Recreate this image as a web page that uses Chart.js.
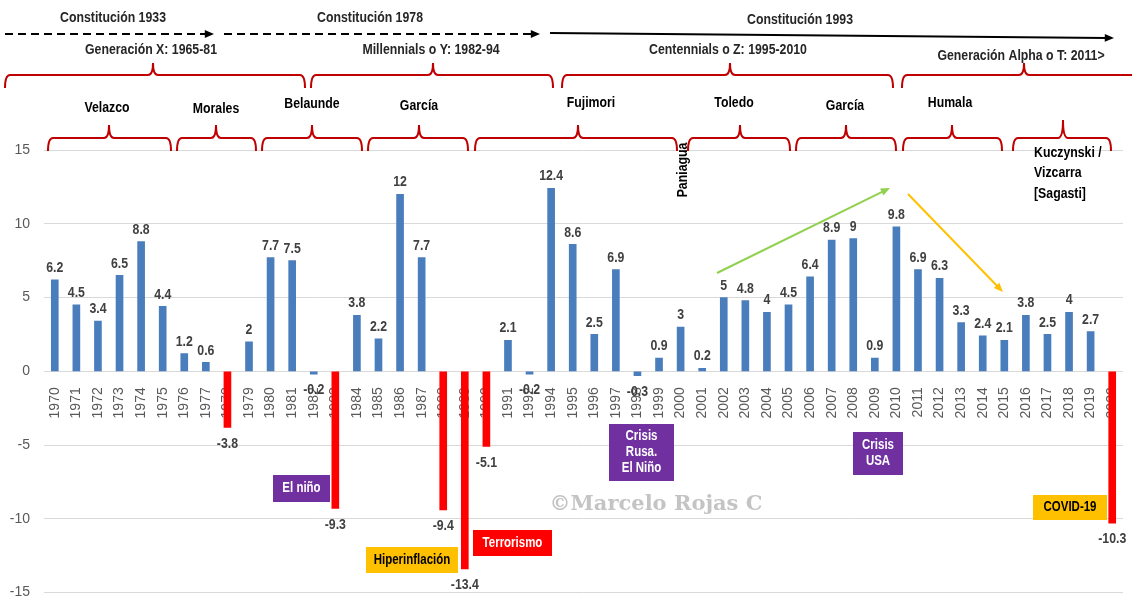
<!DOCTYPE html>
<html>
<head>
<meta charset="utf-8">
<title>PBI Perú 1970-2020</title>
<script src="https://cdn.jsdelivr.net/npm/chart.js"></script>
<style>
  html, body { margin: 0; padding: 0; background: #fff; }
  #wrap { width: 1132px; height: 615px; }
</style>
</head>
<body>
<div id="wrap"><canvas id="myChart" width="1132" height="615"></canvas></div>
<script>
// years on the x axis (1993 is not in the original chart)
const years = [
  '1970', '1971', '1972', '1973', '1974', '1975', '1976', '1977', '1978', '1979',
  '1980', '1981', '1982', '1983', '1984', '1985', '1986', '1987', '1988', '1989',
  '1990', '1991', '1992', '1994', '1995', '1996', '1997', '1998', '1999', '2000',
  '2001', '2002', '2003', '2004', '2005', '2006', '2007', '2008', '2009', '2010',
  '2011', '2012', '2013', '2014', '2015', '2016', '2017', '2018', '2019', '2020'
];

// GDP growth, %
const growth = [
  6.2, 4.5, 3.4, 6.5, 8.8, 4.4, 1.2, 0.6, -3.8, 2,
  7.7, 7.5, -0.2, -9.3, 3.8, 2.2, 12, 7.7, -9.4, -13.4,
  -5.1, 2.1, -0.2, 12.4, 8.6, 2.5, 6.9, -0.3, 0.9, 3,
  0.2, 5, 4.8, 4, 4.5, 6.4, 8.9, 9, 0.9, 9.8,
  6.9, 6.3, 3.3, 2.4, 2.1, 3.8, 2.5, 4, 2.7, -10.3
];

// years drawn in red
const crisisYears = ['1978', '1983', '1988', '1989', '1990', '2020'];

const yTicks = [-15, -10, -5, 0, 5, 10, 15];

const BLUE = '#4a7dbb';
const RED = '#ff0000';
const SANS = '"Liberation Sans", Arial, sans-serif';

const barColors = years.map(y => crisisYears.includes(y) ? RED : BLUE);

// Arial Narrow look-alike: Liberation Sans squeezed horizontally
function ntext(ctx, text, x, y, align) {
  ctx.save();
  ctx.translate(x, y);
  ctx.scale(0.82, 1);
  ctx.textAlign = align || 'center';
  ctx.textBaseline = 'middle';
  ctx.fillText(text, 0, 0);
  ctx.restore();
}

// value labels above / below each bar
const barLabels = {
  id: 'barLabels',
  afterDatasetsDraw(chart) {
    const ctx = chart.ctx;
    const meta = chart.getDatasetMeta(0);
    ctx.save();
    ctx.font = 'bold 15px ' + SANS;
    ctx.fillStyle = '#404040';
    meta.data.forEach((bar, i) => {
      const v = growth[i];
      const y = v >= 0 ? bar.y - 12 : bar.y + 16;
      ntext(ctx, String(v), bar.x, y);
    });
    ctx.restore();
  }
};

function brace(ctx, x1, x2, xm, y, drop, rise) {
  const r = 5;
  ctx.beginPath();
  ctx.moveTo(x1, y + drop);
  ctx.quadraticCurveTo(x1, y, x1 + r, y);
  ctx.lineTo(xm - r, y);
  ctx.quadraticCurveTo(xm, y, xm, y - rise);
  ctx.quadraticCurveTo(xm, y, xm + r, y);
  ctx.lineTo(x2 - r, y);
  ctx.quadraticCurveTo(x2, y, x2, y + drop);
  ctx.stroke();
}

function arrow(ctx, x1, y1, x2, y2, color, width, dash) {
  const ang = Math.atan2(y2 - y1, x2 - x1);
  const head = 10;
  ctx.strokeStyle = color;
  ctx.fillStyle = color;
  ctx.lineWidth = width;
  ctx.setLineDash(dash || []);
  ctx.beginPath();
  ctx.moveTo(x1, y1);
  ctx.lineTo(x2 - head * 0.7 * Math.cos(ang), y2 - head * 0.7 * Math.sin(ang));
  ctx.stroke();
  ctx.setLineDash([]);
  ctx.beginPath();
  ctx.moveTo(x2, y2);
  ctx.lineTo(x2 - head * Math.cos(ang - 0.4), y2 - head * Math.sin(ang - 0.4));
  ctx.lineTo(x2 - head * Math.cos(ang + 0.4), y2 - head * Math.sin(ang + 0.4));
  ctx.closePath();
  ctx.fill();
}

function box(ctx, x, y, w, h, fill, color, lines) {
  ctx.fillStyle = fill;
  ctx.fillRect(x, y, w, h);
  ctx.fillStyle = color;
  const lh = 16;
  const cy = y + h / 2 - (lines.length - 1) * lh / 2;
  lines.forEach((t, i) => ntext(ctx, t, x + w / 2, cy + i * lh));
}

// braces, arrows and notes drawn around the bars
const decorations = {
  id: 'decorations',
  afterDraw(chart) {
    const ctx = chart.ctx;
    ctx.save();

    // constitutions
    ctx.font = 'bold 15px ' + SANS;
    ctx.fillStyle = '#262626';
    ntext(ctx, 'Constitución 1933', 113, 18);
    ntext(ctx, 'Constitución 1978', 370, 18);
    ntext(ctx, 'Constitución 1993', 800, 20);
    arrow(ctx, 5, 34, 214, 34, '#000', 2, [8, 5]);
    arrow(ctx, 224, 34, 540, 34, '#000', 2, [8, 5]);
    arrow(ctx, 550, 33, 1114, 38, '#000', 2);

    // generations
    ctx.fillStyle = '#262626';
    ntext(ctx, 'Generación X: 1965-81', 151, 50);
    ntext(ctx, 'Millennials o Y: 1982-94', 431, 50);
    ntext(ctx, 'Centennials o Z: 1995-2010', 728, 50);
    ntext(ctx, 'Generación Alpha o T: 2011>', 1021, 56);

    ctx.strokeStyle = '#c00000';
    ctx.lineWidth = 2;
    brace(ctx, 5, 305, 153, 75, 13, 12);
    brace(ctx, 311, 553, 433, 75, 13, 12);
    brace(ctx, 562, 893, 730, 75, 13, 12);
    brace(ctx, 902, 1145, 1024, 75, 13, 12);

    // presidents
    ctx.fillStyle = '#000';
    ntext(ctx, 'Velazco', 107, 108);
    ntext(ctx, 'Morales', 216, 109);
    ntext(ctx, 'Belaunde', 312, 104);
    ntext(ctx, 'García', 419, 106);
    ntext(ctx, 'Fujimori', 591, 103);
    ntext(ctx, 'Toledo', 734, 103);
    ntext(ctx, 'García', 845, 106);
    ntext(ctx, 'Humala', 950, 103);

    ctx.strokeStyle = '#c00000';
    brace(ctx, 48, 171, 109, 138, 13, 13);
    brace(ctx, 177, 256, 216, 138, 13, 13);
    brace(ctx, 262, 362, 312, 138, 13, 13);
    brace(ctx, 368, 468, 419, 138, 13, 13);
    brace(ctx, 475, 677, 578, 138, 13, 13);
    brace(ctx, 688, 790, 740, 138, 13, 13);
    brace(ctx, 796, 896, 846, 138, 13, 13);
    brace(ctx, 903, 1002, 952, 138, 13, 13);
    brace(ctx, 1013, 1111, 1063, 138, 13, 18);

    ctx.save();
    ctx.translate(683, 170);
    ctx.rotate(-Math.PI / 2);
    ctx.fillStyle = '#000';
    ntext(ctx, 'Paniagua', 0, 0);
    ctx.restore();

    ctx.fillStyle = '#000';
    ntext(ctx, 'Kuczynski /', 1034, 153, 'left');
    ntext(ctx, 'Vizcarra', 1034, 173, 'left');
    ntext(ctx, '[Sagasti]', 1034, 194, 'left');

    // trend arrows
    arrow(ctx, 717, 273, 890, 188, '#92d050', 2);
    arrow(ctx, 908, 194, 1003, 292, '#ffc000', 2);

    // watermark
    ctx.font = 'bold 21px "DejaVu Serif", serif';
    ctx.fillStyle = '#c4c4c4';
    ctx.textAlign = 'center';
    ctx.textBaseline = 'middle';
    ctx.fillText('©Marcelo Rojas C', 656, 505);

    // event notes
    ctx.font = 'bold 14px ' + SANS;
    box(ctx, 273, 475, 57, 27, '#7030a0', '#fff', ['El niño']);
    box(ctx, 366, 547, 92, 26, '#ffc000', '#000', ['Hiperinflación']);
    box(ctx, 473, 530, 79, 26, '#ff0000', '#fff', ['Terrorismo']);
    box(ctx, 609, 424, 65, 57, '#7030a0', '#fff', ['Crisis', 'Rusa.', 'El Niño']);
    box(ctx, 853, 432, 50, 43, '#7030a0', '#fff', ['Crisis', 'USA']);
    box(ctx, 1033, 495, 74, 25, '#ffc000', '#000', ['COVID-19']);

    ctx.restore();
  }
};

const data = {
  labels: years,
  datasets: [{
    label: 'Crecimiento del PBI (%)',
    data: growth,
    backgroundColor: barColors,
    barThickness: 7
  }]
};

const config = {
  type: 'bar',
  data: data,
  options: {
    responsive: false,
    animation: false,
    layout: { padding: { top: 150, bottom: 10, left: 0, right: 9 } },
    plugins: {
      legend: { display: false },
      tooltip: { enabled: false }
    },
    scales: {
      x: {
        position: { y: 0 },
        z: 1,
        afterFit: s => { s.paddingLeft = 0; s.paddingRight = 0; },
        grid: { display: false, drawTicks: false },
        border: { display: false },
        ticks: {
          color: '#595959',
          font: { family: SANS, size: 14 },
          minRotation: 90,
          maxRotation: 90,
          autoSkip: false,
          padding: 16
        }
      },
      y: {
        min: -15,
        max: 15,
        afterFit: s => { s.width = 44; },
        afterBuildTicks: s => { s.ticks = yTicks.map(v => ({ value: v })); },
        grid: { color: '#d9d9d9', drawTicks: false },
        border: { display: false },
        ticks: {
          color: '#595959',
          font: { family: SANS, size: 14 },
          padding: 14
        }
      }
    }
  },
  plugins: [barLabels, decorations]
};

// eslint-disable-next-line
const myChart = new Chart(document.getElementById('myChart'), config);
</script>
</body>
</html>
